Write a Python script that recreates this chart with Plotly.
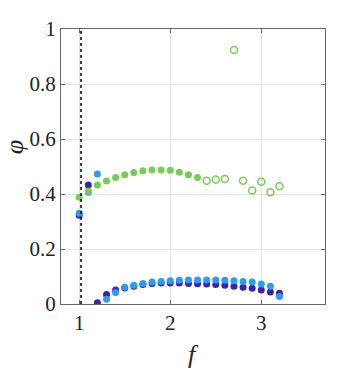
import plotly.graph_objects as go

# ── Data ──────────────────────────────────────────────────────────────────────
f_green = [1.0, 1.1, 1.2, 1.3, 1.4, 1.5, 1.6, 1.7, 1.8, 1.9, 2.0, 2.1, 2.2, 2.3]
phi_green = [0.388, 0.410, 0.433, 0.447, 0.460, 0.470, 0.478, 0.485, 0.487,
             0.487, 0.486, 0.479, 0.470, 0.460]

f_green_open = [2.4, 2.5, 2.6, 2.7, 2.8, 2.9, 3.0, 3.1, 3.2]
phi_green_open = [0.448, 0.453, 0.455, 0.924, 0.448, 0.413, 0.445, 0.406, 0.428]

f_blue = [1.0, 1.1, 1.2, 1.3, 1.4, 1.5, 1.6, 1.7, 1.8, 1.9, 2.0, 2.1, 2.2,
          2.3, 2.4, 2.5, 2.6, 2.7, 2.8, 2.9, 3.0, 3.1, 3.2]
phi_blue = [0.330, 0.406, 0.473, 0.017, 0.042, 0.061, 0.068, 0.075, 0.080,
            0.082, 0.085, 0.086, 0.087, 0.087, 0.087, 0.087, 0.086, 0.085,
            0.082, 0.080, 0.073, 0.065, 0.027]

f_purple = [1.0, 1.1, 1.2, 1.3, 1.4, 1.5, 1.6, 1.7, 1.8, 1.9, 2.0, 2.1, 2.2,
            2.3, 2.4, 2.5, 2.6, 2.7, 2.8, 2.9, 3.0, 3.1, 3.2]
phi_purple = [0.323, 0.433, 0.005, 0.035, 0.051, 0.058, 0.065, 0.071, 0.075,
              0.076, 0.076, 0.076, 0.075, 0.074, 0.073, 0.071, 0.068, 0.065,
              0.061, 0.057, 0.051, 0.044, 0.039]

f_line = 1.02

GREEN = "#78CC55"
BLUE = "#2E9CEC"
PURPLE = "#3B23AE"
GRID = "#E3E3E3"
AXIS = "#666666"
FONT = "Liberation Serif, DejaVu Serif, serif"

fig = go.Figure()
fig.add_trace(go.Scatter(
    x=f_purple, y=phi_purple, mode="markers",
    marker=dict(color=PURPLE, size=7, line=dict(width=0)),
))
fig.add_trace(go.Scatter(
    x=f_blue, y=phi_blue, mode="markers",
    marker=dict(color=BLUE, size=7, line=dict(width=0)),
))
fig.add_trace(go.Scatter(
    x=f_green, y=phi_green, mode="markers",
    marker=dict(color=GREEN, size=7, line=dict(width=0)),
))
fig.add_trace(go.Scatter(
    x=f_green_open, y=phi_green_open, mode="markers",
    marker=dict(symbol="circle-open", color=GREEN, size=7, line=dict(width=1.5)),
))

fig.add_shape(type="line", x0=f_line, x1=f_line, y0=0, y1=1,
              xref="x", yref="y",
              line=dict(color="black", width=1.5, dash="dot"))

# axis titles placed by hand so the plot area keeps its size
fig.add_annotation(text="<i>f</i>", xref="paper", yref="paper",
                   x=0.5, y=-0.125, yanchor="top", showarrow=False,
                   font=dict(size=26))
fig.add_annotation(text="<i>φ</i>", xref="paper", yref="paper",
                   x=-0.178, y=0.57, xanchor="center", yanchor="middle",
                   textangle=-90, showarrow=False, font=dict(size=26))

fig.update_layout(
    width=361, height=373,
    margin=dict(l=61, r=36, t=29, b=69),
    plot_bgcolor="white", paper_bgcolor="white",
    showlegend=False,
    font=dict(family=FONT, size=21, color="#222222"),
    xaxis=dict(
        range=[0.8, 3.7], tickvals=[1, 2, 3], automargin=False,
        showgrid=True, gridcolor=GRID, gridwidth=1,
        zeroline=False, showline=True, linecolor=AXIS, linewidth=1, mirror="ticks",
        ticks="inside", ticklen=4, tickcolor=AXIS,
    ),
    yaxis=dict(
        range=[0, 1], tickvals=[0, 0.2, 0.4, 0.6, 0.8, 1], automargin=False,
        ticktext=["0", "0.2", "0.4", "0.6", "0.8", "1"],
        showgrid=True, gridcolor=GRID, gridwidth=1,
        zeroline=False, showline=True, linecolor=AXIS, linewidth=1, mirror="ticks",
        ticks="inside", ticklen=4, tickcolor=AXIS,
    ),
)

# page body has a default 8px margin; drop it so the figure fills the window
fig.write_html("out.html", config={"displayModeBar": False},
               post_script="document.body.style.margin='0';")
